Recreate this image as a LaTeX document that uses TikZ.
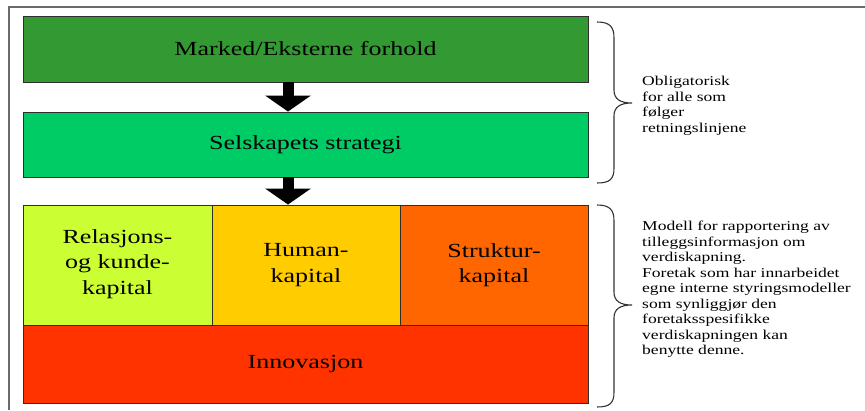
\documentclass[tikz,border=0pt]{standalone}
\usepackage{fontspec}
\setmainfont{Liberation Serif}[FakeStretch=1.3]
\usetikzlibrary{arrows.meta}
\definecolor{cMarked}{HTML}{339933}
\definecolor{cStrategi}{HTML}{00CC66}
\definecolor{cRelasjon}{HTML}{CCFF33}
\definecolor{cHuman}{HTML}{FFCC00}
\definecolor{cStruktur}{HTML}{FF6600}
\definecolor{cInnovasjon}{HTML}{FF3300}
\definecolor{boxline}{HTML}{2E2E2E}
\definecolor{braceline}{HTML}{333333}
\definecolor{frameline}{HTML}{6A6A6A}
\begin{document}
\begin{tikzpicture}[x=1pt,y=-1pt,
  box/.style={draw=boxline, line width=0.9pt, inner sep=0pt, align=center,
    font=\fontsize{20}{25.5}\selectfont},
  blockarrow/.style={line width=11pt, -{Triangle[width=45pt,length=16pt]}},
  bracepath/.style={draw=braceline, line width=1.1pt},
  note/.style={anchor=north west, inner sep=0pt, align=left,
    font=\fontsize{13.5}{15.5}\selectfont}]
\useasboundingbox (0,0) rectangle (865,410);

% page frame (top and left edges)
\draw[frameline, line width=1.2pt] (9,410) -- (9,7) -- (865,7);

% main blocks
\node[box, fill=cMarked, minimum width=565pt, minimum height=66pt] (m) at (305.5,49) {Marked/Eksterne forhold};
\node[box, fill=cStrategi, minimum width=565pt, minimum height=65pt] (s) at (305.5,144.5) {Selskapets strategi};
\node[box, fill=cRelasjon, minimum width=189pt, minimum height=120pt, text depth=6pt] (r) at (117.5,265) {Relasjons-\\og kunde-\\kapital};
\node[box, fill=cHuman, minimum width=188pt, minimum height=120pt] (h) at (306,265) {Human-\\kapital};
\node[box, fill=cStruktur, minimum width=188pt, minimum height=120pt] (k) at (494,265) {Struktur-\\kapital};
\node[box, fill=cInnovasjon, minimum width=565pt, minimum height=78pt] (i) at (305.5,364) {Innovasjon};

% block arrows between the layers
\coordinate (ax) at (288,0);
\draw[blockarrow] (ax |- m.south) -- (ax |- s.north);
\draw[blockarrow] (ax |- s.south) -- (ax |- h.north);

% curly braces
\draw[bracepath] (597,22) .. controls (610,22) and (614,27) .. (614,38)
  -- (614,90) .. controls (614,99) and (620,103) .. (632,103)
  .. controls (620,103) and (614,107) .. (614,116)
  -- (614,168) .. controls (614,179) and (610,183) .. (597,183);
\draw[bracepath] (597,205) .. controls (610,205) and (614,210) .. (614,221)
  -- (614,292) .. controls (614,301) and (620,305) .. (632,305)
  .. controls (620,305) and (614,309) .. (614,318)
  -- (614,392) .. controls (614,403) and (610,407) .. (597,407);

% side notes
\node[note] (n1) at (642,76) {Obligatorisk\\for alle som\\følger\\retningslinjene};
\node[note] (n2) at (642,221) {Modell for rapportering av\\tilleggsinformasjon om\\verdiskapning.\\Foretak som har innarbeidet\\egne interne styringsmodeller\\som synliggjør den\\foretaksspesifikke\\verdiskapningen kan\\benytte denne.};
\end{tikzpicture}
\end{document}
